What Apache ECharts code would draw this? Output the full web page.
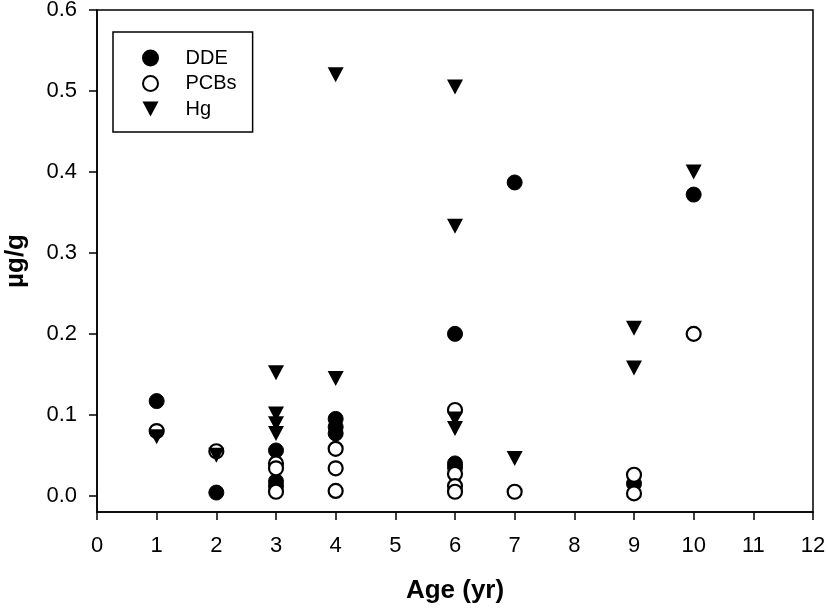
<!DOCTYPE html>
<html>
<head>
<meta charset="utf-8">
<script src="https://cdn.jsdelivr.net/npm/echarts@6/dist/echarts.min.js"></script>
<style>html,body{margin:0;padding:0;background:#fff}#c{width:828px;height:608px}</style>
</head>
<body>
<div id="c"></div>
<script>
const xTicks = [0,1,2,3,4,5,6,7,8,9,10,11,12];
const yTicks = [0, 0.1, 0.2, 0.3, 0.4, 0.5, 0.6];

const ddeAge = [1, 2, 3, 3, 3, 4, 4, 4, 6, 6, 6, 7, 9, 10];
const ddeVal = [0.117, 0.004, 0.056, 0.018, 0.012, 0.095, 0.085, 0.077, 0.200, 0.040, 0.035, 0.387, 0.015, 0.372];

const pcbAge = [1, 2, 3, 3, 3, 4, 4, 4, 6, 6, 6, 6, 7, 9, 9, 10];
const pcbVal = [0.080, 0.055, 0.040, 0.034, 0.005, 0.058, 0.034, 0.006, 0.106, 0.027, 0.012, 0.005, 0.005, 0.026, 0.003, 0.200];

const hgAge = [1, 2, 3, 3, 3, 3, 4, 4, 6, 6, 6, 6, 7, 9, 9, 10];
const hgVal = [0.073, 0.050, 0.152, 0.101, 0.089, 0.077, 0.520, 0.145, 0.505, 0.333, 0.095, 0.083, 0.046, 0.207, 0.158, 0.400];

const pair = (a, v) => a.map((x, i) => [x, v[i]]);
const FONT = 'Liberation Sans, Arial, Helvetica, sans-serif';
const triDown = 'path://M0,0 L16,0 L8,15 Z';

const chart = echarts.init(document.getElementById('c'), null, {renderer: 'canvas'});
chart.setOption({
  animation: false,
  backgroundColor: '#fff',
  grid: {left: 97, right: 15, top: 10, bottom: 96, containLabel: false, outerBoundsMode: 'none',
         show: true, borderColor: '#000', borderWidth: 1.5, backgroundColor: 'transparent'},
  legend: {
    orient: 'vertical', left: 113, top: 32,
    backgroundColor: '#fff',
    borderColor: '#000', borderWidth: 1.5, borderRadius: 0,
    padding: [16, 16, 13, 29],
    itemWidth: 16, itemHeight: 15, itemGap: 5.5,
    textStyle: {fontFamily: FONT, fontSize: 20, color: '#000', padding: [0, 0, 0, 22]},
    data: ['DDE', 'PCBs', 'Hg']
  },
  xAxis: {
    type: 'value', min: 0, max: 12, interval: 1,
    name: 'Age (yr)', nameLocation: 'middle', nameGap: 66,
    nameTextStyle: {fontFamily: FONT, fontSize: 26, fontWeight: 'bold', color: '#000'},
    axisLine: {show: true, onZero: false, lineStyle: {color: '#000', width: 1.5}},
    axisTick: {show: true, inside: false, length: 8, lineStyle: {color: '#000', width: 1.5}},
    axisLabel: {margin: 23, fontFamily: FONT, fontSize: 22, color: '#000', formatter: v => xTicks.includes(v) ? String(v) : ''},
    splitLine: {show: false}
  },
  yAxis: {
    type: 'value', min: -0.02, max: 0.6,
    name: 'µg/g', nameLocation: 'middle', nameGap: 68, nameRotate: 90,
    nameTextStyle: {fontFamily: FONT, fontSize: 26, fontWeight: 'bold', color: '#000'},
    axisLine: {show: true, onZero: false, lineStyle: {color: '#000', width: 1.5}},
    axisTick: {show: true, inside: false, length: 8, lineStyle: {color: '#000', width: 1.5}, customValues: yTicks},
    axisLabel: {margin: 20, fontFamily: FONT, fontSize: 22, color: '#000', customValues: yTicks, formatter: v => v.toFixed(1)},
    splitLine: {show: false}
  },
  series: [
    {name: 'DDE', type: 'scatter', symbol: 'circle', symbolSize: 15,
     itemStyle: {color: '#000', borderColor: '#000', borderWidth: 1, opacity: 1},
     data: pair(ddeAge, ddeVal)},
    {name: 'PCBs', type: 'scatter', symbol: 'circle', symbolSize: 14,
     itemStyle: {color: '#fff', borderColor: '#000', borderWidth: 2.2, opacity: 1},
     data: pair(pcbAge, pcbVal)},
    {name: 'Hg', type: 'scatter', symbol: triDown, symbolSize: [16, 15],
     itemStyle: {color: '#000', opacity: 1},
     data: pair(hgAge, hgVal)}
  ]
});
</script>
</body>
</html>
